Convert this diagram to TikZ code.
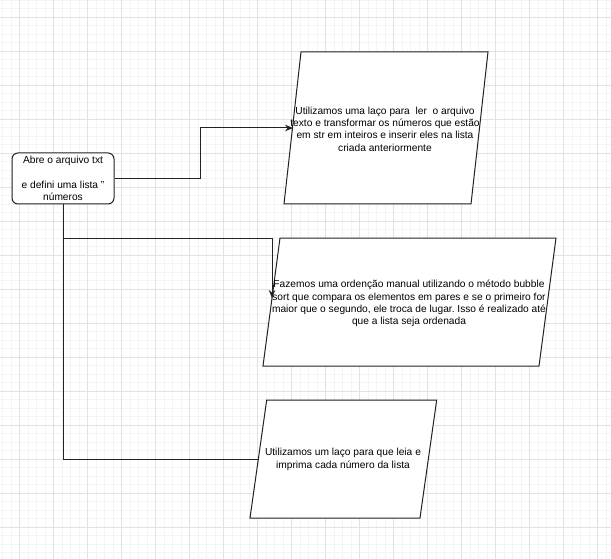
\documentclass[tikz,border=0pt]{standalone}
\usepackage{fontspec}
\setmainfont{Liberation Sans}
\usetikzlibrary{arrows.meta}
\definecolor{gridmajor}{HTML}{E2E2E2}
\definecolor{gridminor}{HTML}{F4F4F4}
\definecolor{edgecol}{HTML}{222222}
\frenchspacing
\begin{document}
\begin{tikzpicture}[x=1pt,y=-1pt,
  minorline/.style={draw=gridminor,line width=0.8pt},
  majorline/.style={draw=gridmajor,line width=0.9pt},
  startbox/.style={draw=edgecol,fill=white,rounded corners=6pt,line width=1pt,
    minimum width=102pt,minimum height=51pt,inner sep=0pt,align=center,
    font=\fontsize{10.2}{12.3}\selectfont},
  parashape/.style={draw=edgecol,fill=white,line width=1pt},
  paratext/.style={inner sep=0pt,align=center,font=\fontsize{10.2}{12.3}\selectfont},
  conn/.style={draw=edgecol,line width=1pt},
  arr/.style={conn,-{Stealth[length=8pt,width=6.5pt]}}
]
\useasboundingbox (0,0) rectangle (611,559);
\fill[white] (0,0) rectangle (611,559);
% grid
\foreach \i in {0,...,71} { \draw[minorline] ({2.5+8.5*\i},0) -- ({2.5+8.5*\i},559); }
\foreach \i in {0,...,65} { \draw[minorline] (0,{0.3+8.5*\i}) -- (611,{0.3+8.5*\i}); }
\foreach \i in {0,...,17} { \draw[majorline] ({19.5+34*\i},0) -- ({19.5+34*\i},559); }
\foreach \i in {0,...,15} { \draw[majorline] (0,{17.3+34*\i}) -- (611,{17.3+34*\i}); }

% start box
\node[startbox] (start) at (63,178.5) {Abre o arquivo txt\\[12.3pt]e defini uma lista {\char34}\\números};

% parallelogram 1
\draw[parashape] (301,52) -- (488,52) -- (471,204) -- (284,204) -- cycle;
\node[paratext] (p1) at (385,129) {Utilizamos uma laço para~ ler~ o arquivo\\texto e transformar os números que estão\\em str em inteiros e inserir eles na lista\\criada anteriormente};
\coordinate (p1in) at (293,128);

% parallelogram 2
\draw[parashape] (280,238) -- (556,238) -- (539,366) -- (263,366) -- cycle;
\node[paratext] (p2) at (409,303.5) {Fazemos uma ordenção manual utilizando o método bubble\\sort que compara os elementos em pares e se o primeiro for\\maior que o segundo, ele troca de lugar. Isso é realizado até\\que a lista seja ordenada};
\coordinate (c2) at (272,238);
\coordinate (p2in) at (272,298);

% parallelogram 3
\draw[parashape] (266.7,400) -- (436.7,400) -- (420,518) -- (250,518) -- cycle;
\node[paratext] (p3) at (343,459.5) {Utilizamos um laço para que leia e\\imprima cada número da lista};
\coordinate (p3in) at (258,459);

% connectors
\draw[arr] (start.east) -- ++(86,0) |- (p1in);
\draw[arr] (start.south) |- (c2) -- (p2in);
\draw[conn] (start.south) |- (p3in);
\end{tikzpicture}
\end{document}
